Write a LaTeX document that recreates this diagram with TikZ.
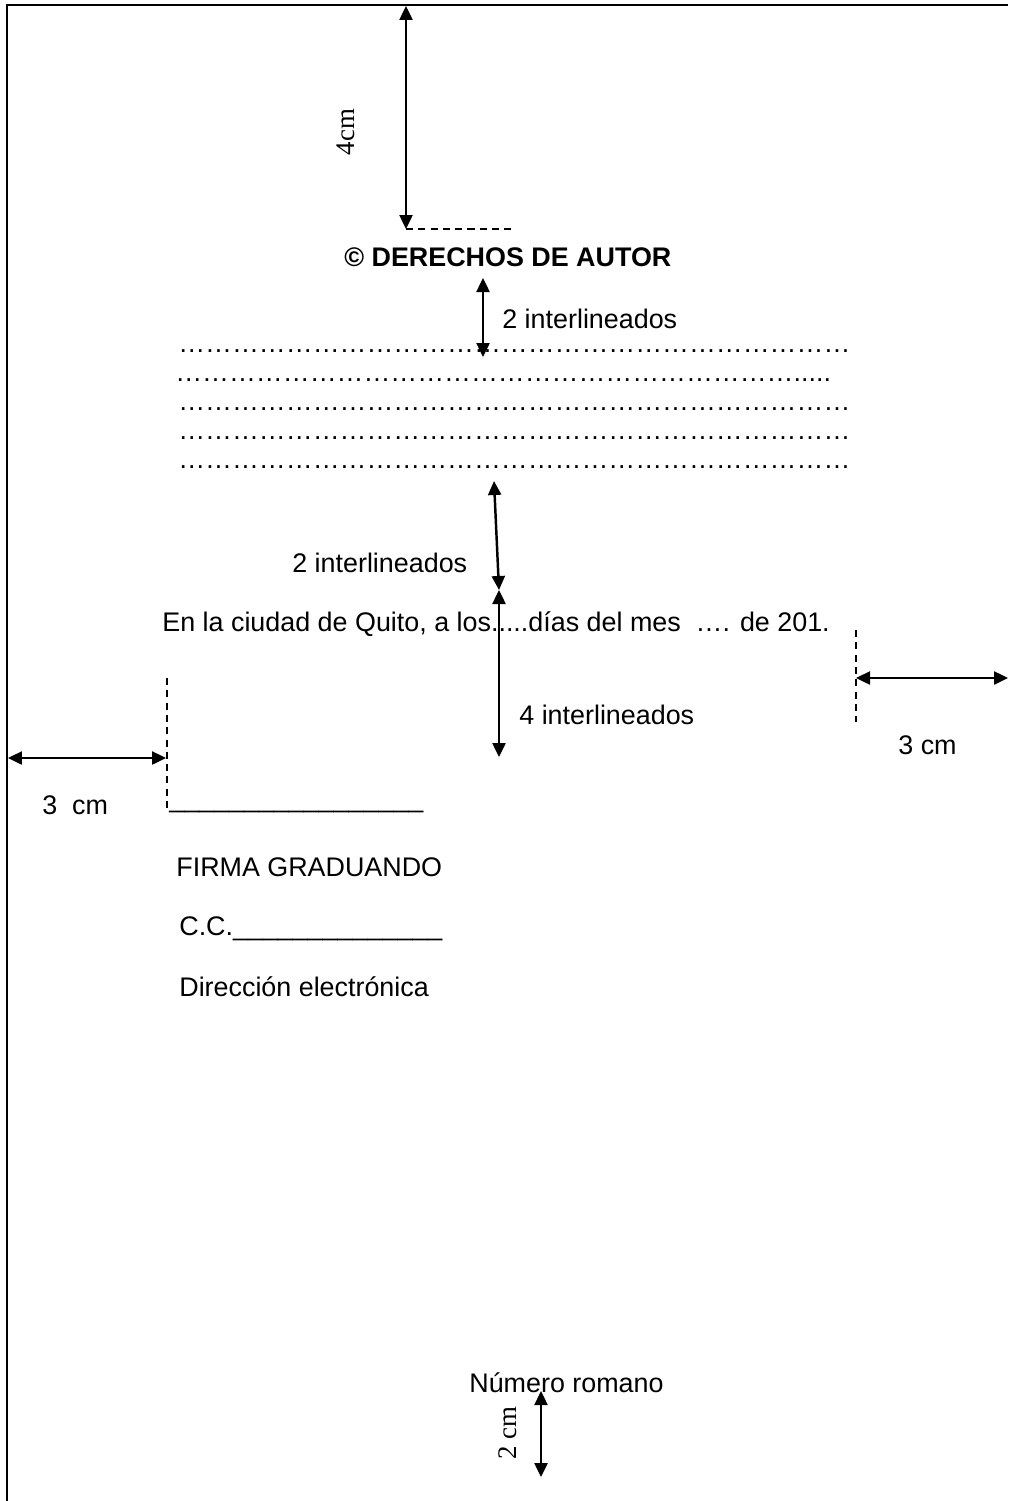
\documentclass[tikz,border=0pt]{standalone}
\usepackage{fontspec}
\setmainfont{Liberation Sans}
\newfontfamily\timesfont{Liberation Serif}
\usetikzlibrary{arrows.meta,positioning}

\begin{document}
\begin{tikzpicture}[
    x=0.02cm, y=-0.02cm,
    txt/.style={anchor=west, inner sep=0pt, font=\fontsize{15.3}{18}\selectfont},
    sidetxt/.style={inner sep=0pt, rotate=90, font=\fontsize{15.3}{18}\selectfont\timesfont},
    dimarrow/.style={{Triangle[length=0.28cm,width=0.26cm]}-{Triangle[length=0.28cm,width=0.26cm]}, line width=1.4pt},
    guide/.style={dashed, dash pattern=on 4pt off 3pt, line width=0.8pt}
]
    \useasboundingbox (0,0) rectangle (1008,1501);

    % page edge
    \draw[line width=1.3pt] (7,1501) -- (7,5) -- (1008,5);

    % top margin
    \coordinate (pagetop) at (406,6);
    \coordinate (titlemark) at (406,229);
    \coordinate (titlemarkend) at (515,229);
    \draw[dimarrow] (pagetop) -- (titlemark);
    \draw[guide] (titlemark) -- (titlemarkend);
    \node[sidetxt] (topcm) at (346,132) {4cm};

    \node[txt, font=\fontsize{15.3}{18}\selectfont\bfseries] (title) at (344,257) {© DERECHOS DE AUTOR};

    % dotted text lines
    \node[txt] (row1) at (178,351) {…………………………………………………………………};
    \node[txt] (row2) at (175,380) {…………………………………………………………….....};
    \node[txt] (row3) at (178,409) {…………………………………………………………………};
    \node[txt] (row4) at (178,438) {…………………………………………………………………};
    \node[txt] (row5) at (178,467) {…………………………………………………………………};

    \coordinate (gapA1) at (483,278);
    \coordinate (gapA2) at (483,357);
    \draw[dimarrow] (gapA1) -- (gapA2);
    \node[txt] (lblA) at (502,319) {2 interlineados};

    \coordinate (gapB1) at (494,481);
    \coordinate (gapB2) at (499,590);
    \draw[dimarrow] (gapB1) -- (gapB2);
    \node[txt] (lblB) at (292,563) {2 interlineados};

    \node[txt] (city) at (162,624) {En la ciudad de Quito, a los.....días del mes~ …. de 201.};

    \coordinate (gapC2) at (499,757);
    \draw[dimarrow] (gapB2) -- (gapC2);
    \node[txt] (lblC) at (519,715) {4 interlineados};

    % right margin
    \coordinate (rguide1) at (856,630);
    \coordinate (rguide2) at (856,722);
    \coordinate (rmark) at (856,678);
    \coordinate (pageright) at (1008,678);
    \draw[guide] (rguide1) -- (rguide2);
    \draw[dimarrow] (rmark) -- (pageright);
    \node[txt] (rcm) at (898,745) {3 cm};

    % left margin
    \coordinate (lguide1) at (167,678);
    \coordinate (lguide2) at (167,812);
    \coordinate (lmark) at (166,758);
    \coordinate (pageleft) at (8,758);
    \draw[guide] (lguide1) -- (lguide2);
    \draw[dimarrow] (pageleft) -- (lmark);
    \node[txt] (lcm) at (42,805) {3~ cm};

    % signature block
    \node[txt] (sign) at (169,810) {\_\_\_\_\_\_\_\_\_\_\_\_\_\_\_\_\_};
    \node[txt] (firma) at (176,867) {FIRMA GRADUANDO};
    \node[txt] (cc) at (179,929) {C.C.\_\_\_\_\_\_\_\_\_\_\_\_\_\_};
    \node[txt] (mail) at (179,987) {Dirección electrónica};

    % bottom margin
    \node[txt] (folio) at (469,1383) {Número romano};
    \coordinate (folioB1) at (541,1391);
    \coordinate (folioB2) at (541,1477);
    \draw[dimarrow] (folioB1) -- (folioB2);
    \node[sidetxt] (botcm) at (508,1433) {2 cm};
\end{tikzpicture}
\end{document}
